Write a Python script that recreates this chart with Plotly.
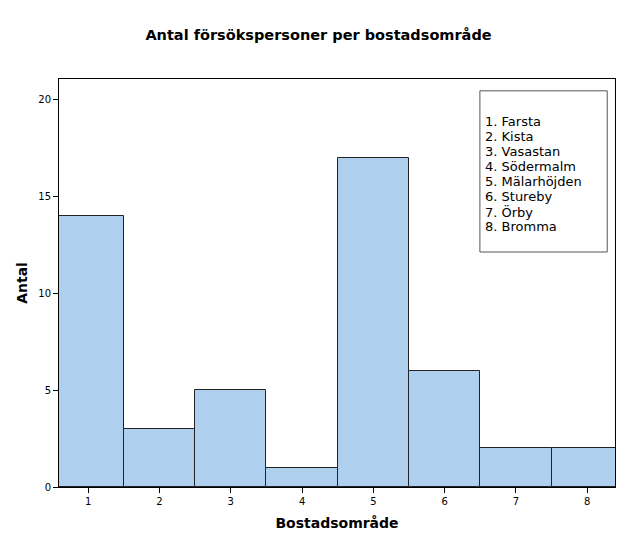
import plotly.graph_objects as go

# Antal försökspersoner per bostadsområde
omraden = [1, 2, 3, 4, 5, 6, 7, 8]
antal = [14, 3, 5, 1, 17, 6, 2, 2]
namn = ['Farsta', 'Kista', 'Vasastan', 'Södermalm', 'Mälarhöjden',
        'Stureby', 'Örby', 'Bromma']
y_ticks = [0, 5, 10, 15, 20]

font = 'DejaVu Sans'

fig = go.Figure()
fig.add_trace(go.Bar(
    x=omraden, y=antal, width=1,
    marker=dict(color='#aed0ee', line=dict(color='#222222', width=1)),
))

# legend box drawn as a rectangle with one text line per area
fig.add_shape(type='rect', xref='paper', yref='paper',
              x0=0.757, x1=0.986, y0=0.576, y1=0.971,
              line=dict(color='#555555', width=1), fillcolor='white')
for i, n in enumerate(namn):
    fig.add_annotation(xref='paper', yref='paper', x=0.763, y=0.895 - i * 0.0367,
                       text='%d. %s' % (i + 1, n), showarrow=False,
                       xanchor='left', yanchor='middle',
                       font=dict(family=font, size=13, color='black'))

# the page puts the plot 8px in from the corner, so the size is trimmed by that
fig.update_layout(
    width=621, height=537,
    margin=dict(l=51, r=14, t=71, b=58),
    plot_bgcolor='white', paper_bgcolor='white',
    showlegend=False,
    title=dict(text='<b>Antal försökspersoner per bostadsområde</b>',
               x=0.5, xanchor='center', y=0.95, yanchor='middle',
               font=dict(family=font, size=14.5, color='black')),
    bargap=0,
)
fig.update_xaxes(
    range=[0.59, 8.39], tickvals=omraden, ticks='outside', ticklen=5,
    tickcolor='black', showgrid=False, zeroline=False,
    showline=True, linecolor='black', linewidth=1, mirror=True,
    tickfont=dict(family=font, size=10, color='black'),
    title=dict(text='<b>Bostadsområde</b>', standoff=12,
               font=dict(family=font, size=14, color='black')),
)
fig.update_yaxes(
    range=[0, 21.08], tickvals=y_ticks, ticks='outside', ticklen=5,
    tickcolor='black', showgrid=False, zeroline=False,
    showline=True, linecolor='black', linewidth=1, mirror=True,
    tickfont=dict(family=font, size=10, color='black'),
    title=dict(text='<b>Antal</b>', standoff=7,
               font=dict(family=font, size=14, color='black')),
)

fig.write_html('out.html')
